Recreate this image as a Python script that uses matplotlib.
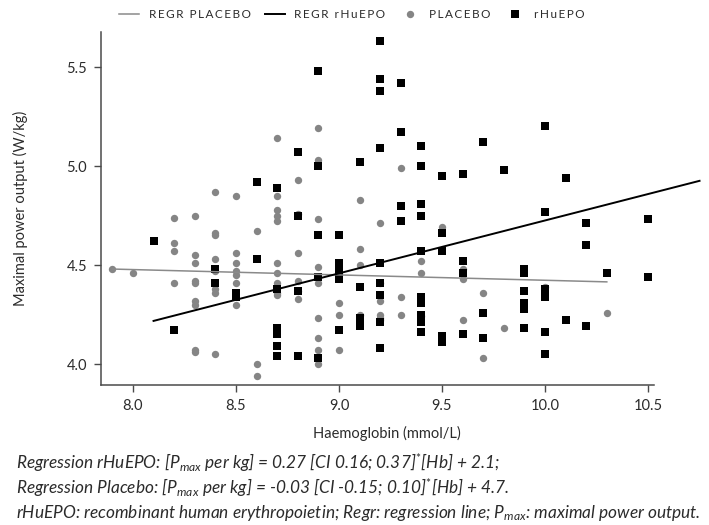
import numpy as np
import matplotlib
matplotlib.use("Agg")
import matplotlib.pyplot as plt
from matplotlib.lines import Line2D

plt.rcParams['font.family'] = ['Lato', 'DejaVu Sans']
plt.rcParams['mathtext.fontset'] = 'custom'
plt.rcParams['mathtext.rm'] = 'Lato'
plt.rcParams['mathtext.it'] = 'Lato:italic'

# Placebo group: haemoglobin (mmol/L) -> Pmax (W/kg)
placebo_hb = [7.9, 8.0,
              8.2, 8.2, 8.2, 8.2,
              8.3, 8.3, 8.3, 8.3, 8.3, 8.3, 8.3, 8.3, 8.3,
              8.4, 8.4, 8.4, 8.4, 8.4, 8.4, 8.4, 8.4,
              8.5, 8.5, 8.5, 8.5, 8.5, 8.5, 8.5,
              8.6, 8.6, 8.6,
              8.7, 8.7, 8.7, 8.7, 8.7, 8.7, 8.7, 8.7, 8.7, 8.7,
              8.8, 8.8, 8.8, 8.8, 8.8, 8.8,
              8.9, 8.9, 8.9, 8.9, 8.9, 8.9, 8.9, 8.9, 8.9,
              9.0, 9.0, 9.0,
              9.1, 9.1, 9.1, 9.1,
              9.2, 9.2, 9.2, 9.2, 9.2, 9.2,
              9.3, 9.3, 9.3,
              9.4, 9.4, 9.4,
              9.5,
              9.6, 9.6, 9.6,
              9.7, 9.7,
              9.8, 10.0, 10.3]
placebo_pmax = [4.48, 4.46,
                4.74, 4.61, 4.57, 4.41,
                4.75, 4.55, 4.51, 4.42, 4.41, 4.32, 4.30, 4.07, 4.06,
                4.87, 4.66, 4.65, 4.53, 4.47, 4.38, 4.36, 4.05,
                4.85, 4.56, 4.51, 4.47, 4.45, 4.41, 4.30,
                4.67, 4.00, 3.94,
                5.14, 4.85, 4.78, 4.75, 4.72, 4.51, 4.46, 4.41, 4.36, 4.35,
                4.93, 4.76, 4.56, 4.42, 4.37, 4.33,
                5.19, 5.03, 4.73, 4.49, 4.41, 4.23, 4.13, 4.07, 4.00,
                4.31, 4.25, 4.07,
                4.83, 4.58, 4.50, 4.25,
                4.71, 4.41, 4.32, 4.25, 4.23, 4.22,
                4.99, 4.34, 4.25,
                4.52, 4.46, 4.24,
                4.69,
                4.48, 4.43, 4.22,
                4.36, 4.03,
                4.18, 4.39, 4.26]

# rHuEPO group
epo_hb = [8.1, 8.2,
          8.4, 8.4,
          8.5, 8.5,
          8.6, 8.6,
          8.7, 8.7, 8.7, 8.7, 8.7, 8.7,
          8.8, 8.8, 8.8, 8.8,
          8.9, 8.9, 8.9, 8.9, 8.9,
          9.0, 9.0, 9.0, 9.0, 9.0,
          9.1, 9.1, 9.1, 9.1,
          9.2, 9.2, 9.2, 9.2, 9.2, 9.2, 9.2, 9.2, 9.2,
          9.3, 9.3, 9.3, 9.3,
          9.4, 9.4, 9.4, 9.4, 9.4, 9.4, 9.4, 9.4, 9.4, 9.4,
          9.5, 9.5, 9.5, 9.5, 9.5,
          9.6, 9.6, 9.6, 9.6,
          9.7, 9.7, 9.7,
          9.8,
          9.9, 9.9, 9.9, 9.9, 9.9, 9.9,
          10.0, 10.0, 10.0, 10.0, 10.0, 10.0,
          10.1, 10.1,
          10.2, 10.2, 10.2,
          10.3,
          10.5, 10.5]
epo_pmax = [4.62, 4.17,
            4.48, 4.41,
            4.36, 4.34,
            4.92, 4.53,
            4.89, 4.38, 4.18, 4.15, 4.09, 4.04,
            5.07, 4.75, 4.37, 4.04,
            5.48, 5.00, 4.65, 4.44, 4.03,
            4.65, 4.51, 4.47, 4.43, 4.17,
            5.02, 4.39, 4.23, 4.19,
            5.63, 5.44, 5.38, 5.09, 4.51, 4.41, 4.35, 4.21, 4.08,
            5.42, 5.17, 4.80, 4.72,
            5.10, 5.00, 4.81, 4.75, 4.57, 4.34, 4.31, 4.25, 4.21, 4.16,
            4.95, 4.66, 4.57, 4.14, 4.11,
            4.96, 4.52, 4.46, 4.15,
            5.12, 4.26, 4.13,
            4.98,
            4.48, 4.46, 4.37, 4.31, 4.28, 4.18,
            5.20, 4.77, 4.38, 4.34, 4.16, 4.05,
            4.94, 4.22,
            4.71, 4.60, 4.19,
            4.46,
            4.73, 4.44]

# regression lines (slope, intercept, x range)
placebo_fit = (-0.027, 4.693)
placebo_range = [7.9, 10.3]
epo_fit = (0.267, 2.055)
epo_range = [8.1, 10.75]

xticks = [8.0, 8.5, 9.0, 9.5, 10.0, 10.5]
yticks = [4.0, 4.5, 5.0, 5.5]

legend_labels = ['REGR PLACEBO', 'REGR rHuEPO', 'PLACEBO', 'rHuEPO']

notes = [r"Regression rHuEPO: [P$_{\mathit{max}}$ per kg] = 0.27 [CI 0.16; 0.37]$^{*}$[Hb] + 2.1;",
         r"Regression Placebo: [P$_{\mathit{max}}$ per kg] = -0.03 [CI -0.15; 0.10]$^{*}$[Hb] + 4.7.",
         r"rHuEPO: recombinant human erythropoietin; Regr: regression line; P$_{\mathit{max}}$: maximal power output."]

gray = '#858585'
axis_col = '#4a4a4a'
text_col = '#2b2b2b'


def tracked(s):
    # widen letter spacing with thin spaces, as in the legend of the original
    words = s.split(' ')
    return '  '.join('\u2009'.join(w) for w in words)


fig = plt.figure(figsize=(7.09, 5.25), dpi=100)
ax = fig.add_axes([101 / 709, 1 - 385 / 525, 553 / 709, 353 / 525])

ax.plot(placebo_hb, placebo_pmax, 'o', color=gray, ms=5.3, mew=0, zorder=2)
ax.plot(epo_hb, epo_pmax, 's', color='black', ms=5.6, mew=0, zorder=3)

xs = np.array(placebo_range)
ax.plot(xs, placebo_fit[0] * xs + placebo_fit[1], color='#8a8a8a', lw=1.1, zorder=4)
xs = np.array(epo_range)
ax.plot(xs, epo_fit[0] * xs + epo_fit[1], color='black', lw=1.4, zorder=5, clip_on=False)

ax.set_xlim(7.845, 10.529)
ax.set_ylim(3.894, 5.677)
ax.set_xticks(xticks)
ax.set_xticklabels([f"{t:.1f}" for t in xticks])
ax.set_yticks(yticks)
ax.set_yticklabels([f"{t:.1f}" for t in yticks])

for s in ['top', 'right']:
    ax.spines[s].set_visible(False)
for s in ['left', 'bottom']:
    ax.spines[s].set_color(axis_col)
    ax.spines[s].set_linewidth(1.1)
ax.tick_params(colors=axis_col, labelcolor=text_col, labelsize=10.5, length=5, width=1, pad=5)

ax.set_xlabel('Haemoglobin (mmol/L)', fontsize=10.5, color=text_col)
ax.xaxis.set_label_coords((387 - 101) / 553, -0.115)
ax.set_ylabel('Maximal power output (W/kg)', fontsize=10.5, color=text_col)
ax.yaxis.set_label_coords((28 - 101) / 553, 0.5)

handles = [Line2D([], [], color='#8a8a8a', lw=1.1),
           Line2D([], [], color='black', lw=1.4),
           Line2D([], [], marker='o', ls='', color=gray, ms=5.3, mew=0),
           Line2D([], [], marker='s', ls='', color='black', ms=5.6, mew=0)]
fig.legend(handles, [tracked(l) for l in legend_labels], loc='center',
           bbox_to_anchor=(352 / 709, 1 - 15 / 525),
           ncol=4, frameon=False, fontsize=8.5, handlelength=1.7, handletextpad=0.8,
           columnspacing=1.2, labelcolor=text_col)

for i, line in enumerate(notes):
    fig.text(16 / 709, 1 - (463 + 25 * i) / 525, line, fontsize=12.4, style='italic',
             color=text_col, va='center', ha='left')

fig.savefig('out.png', dpi=100)
